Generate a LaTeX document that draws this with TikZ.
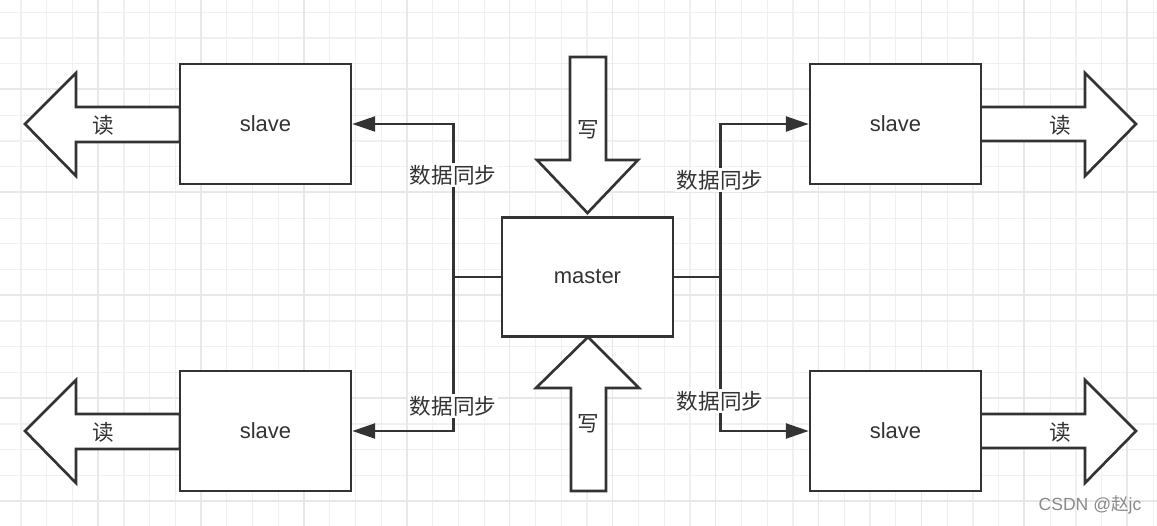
\documentclass[tikz,border=0pt]{standalone}
\usepackage{fontspec}
\setmainfont{Liberation Sans}
\newfontfamily\cjk{Noto Sans CJK SC}
\usetikzlibrary{arrows.meta}

\definecolor{linegray}{HTML}{333333}
\definecolor{gridminor}{HTML}{F0F0F0}
\definecolor{gridmajor}{HTML}{E8E8E8}
\definecolor{markgray}{HTML}{8A8A8A}

\tikzset{
  box/.style={draw=linegray, line width=1.5pt, fill=white, minimum width=3.42cm,
    minimum height=2.4cm, inner sep=0pt, text=linegray, font=\fontsize{12.5}{14}\selectfont},
  bigarrow/.style={draw=linegray, line width=1.5pt, fill=white, line join=miter},
  sync/.style={draw=linegray, line width=1.4pt, -{Triangle[length=13pt,width=8.5pt]}},
  syncline/.style={draw=linegray, line width=1.4pt},
  synclabel/.style={fill=white, inner sep=1pt, text=linegray, font=\cjk\fontsize{12.3}{14}\selectfont},
  arrowlabel/.style={inner sep=0pt, text=linegray, font=\cjk\fontsize{12.3}{14}\selectfont},
}

\begin{document}
\begin{tikzpicture}[x=0.02cm, y=-0.02cm]

  % fond quadrillé
  \fill[white] (0,0) rectangle (1157,526);
  \useasboundingbox (0,0) rectangle (1157,526);
  \foreach \i in {0,...,44}
    \draw[gridminor, line width=0.7pt] ({21+25.73*\i},0) -- ({21+25.73*\i},526);
  \foreach \j in {0,...,20}
    \draw[gridminor, line width=0.7pt] (0,{12.3+25.73*\j}) -- (1157,{12.3+25.73*\j});
  \foreach \i in {0,...,10}
    \draw[gridmajor, line width=0.9pt] ({98+102.92*\i},0) -- ({98+102.92*\i},526);
  \foreach \j in {0,...,4}
    \draw[gridmajor, line width=0.9pt] (0,{89.2+102.92*\j}) -- (1157,{89.2+102.92*\j});

  % flèches de lecture (gauche)
  \draw[bigarrow] (180,107) -- (76,107) -- (76,73) -- (25,124) -- (76,176) -- (76,142) -- (180,142) -- cycle;
  \draw[bigarrow] (180,414) -- (76,414) -- (76,380) -- (25,431) -- (76,483) -- (76,449) -- (180,449) -- cycle;
  \node[arrowlabel] (readTL) at (103,125) {读};
  \node[arrowlabel] (readBL) at (103,432) {读};

  % flèches de lecture (droite)
  \draw[bigarrow] (980,107) -- (1085,107) -- (1085,73) -- (1136,124) -- (1085,176) -- (1085,141) -- (980,141) -- cycle;
  \draw[bigarrow] (980,414) -- (1085,414) -- (1085,380) -- (1136,431) -- (1085,483) -- (1085,448) -- (980,448) -- cycle;
  \node[arrowlabel] (readTR) at (1060,125) {读};
  \node[arrowlabel] (readBR) at (1060,432) {读};

  % flèches d'écriture
  \draw[bigarrow] (570,57) -- (606,57) -- (606,160) -- (638,160) -- (587.5,213) -- (537,160) -- (570,160) -- cycle;
  \draw[bigarrow] (571,491) -- (606,491) -- (606,388) -- (639,388) -- (588,337) -- (536,388) -- (571,388) -- cycle;
  \node[arrowlabel] (writeT) at (588,130) {写};
  \node[arrowlabel] (writeB) at (588,424) {写};

  % boîtes
  \node[box] (slTL) at (265.5,124) {slave};
  \node[box] (slBL) at (265.5,431) {slave};
  \node[box] (slTR) at (895.5,124) {slave};
  \node[box] (slBR) at (895.5,431) {slave};
  \node[box, minimum height=2.38cm] (master) at (587.5,277) {master};

  % synchronisation des données
  \path (master.west) ++(-47,0) coordinate (ljoin);
  \path (master.east) ++(46,0) coordinate (rjoin);
  \draw[syncline] (master.west) -- (ljoin);
  \draw[syncline] (master.east) -- (rjoin);
  \draw[sync] (ljoin) |- (slTL.east);
  \draw[sync] (ljoin) |- (slBL.east);
  \draw[sync] (rjoin) |- (slTR.west);
  \draw[sync] (rjoin) |- (slBR.west);
  \node[synclabel] (syncTL) at (453,175) {数据同步};
  \node[synclabel] (syncBL) at (453,406) {数据同步};
  \node[synclabel] (syncTR) at (720,180) {数据同步};
  \node[synclabel] (syncBR) at (720,401) {数据同步};

  % filigrane
  \node[text=markgray, font=\fontsize{10}{12}\selectfont] (mark) at (1090,505) {CSDN @{\cjk 赵}jc};

\end{tikzpicture}
\end{document}
